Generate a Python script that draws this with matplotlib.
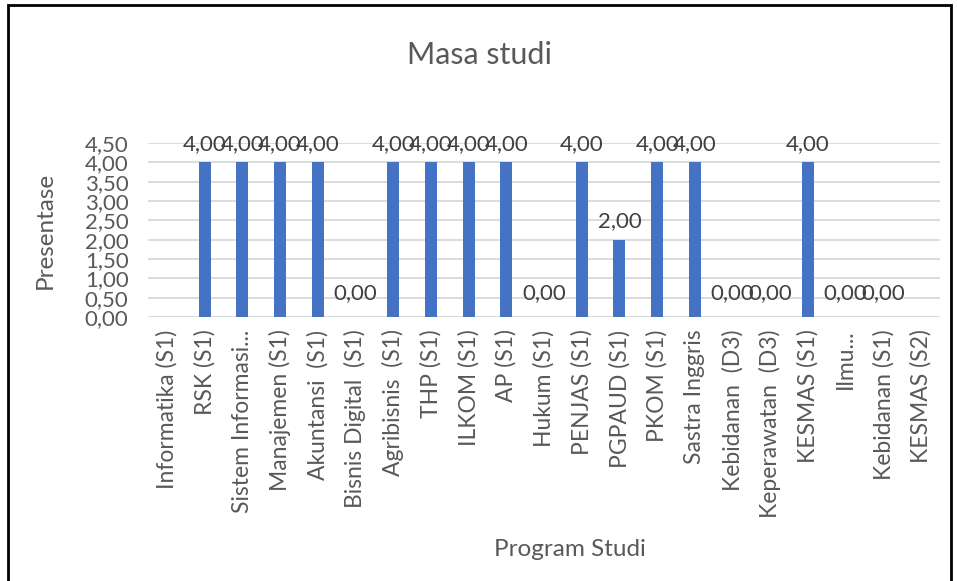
import numpy as np
import matplotlib
matplotlib.use("Agg")
import matplotlib.pyplot as plt
from matplotlib.patches import Rectangle

categories = ["Informatika (S1)", "RSK (S1)", "Sistem Informasi...", "Manajemen (S1)",
              "Akuntansi  (S1)", "Bisnis Digital  (S1)", "Agribisnis  (S1)", "THP (S1)",
              "ILKOM (S1)", "AP (S1)", "Hukum (S1)", "PENJAS (S1)", "PGPAUD (S1)",
              "PKOM (S1)", "Sastra Inggris", "Kebidanan  (D3)", "Keperawatan  (D3)",
              "KESMAS (S1)", "Ilmu...", "Kebidanan (S1)", "KESMAS (S2)"]
values = [np.nan, 4, 4, 4, 4, 0, 4, 4, 4, 4, 0, 4, 2, 4, 4, 0, 0, 4, 0, 0, np.nan]
yticks = [0, 0.5, 1, 1.5, 2, 2.5, 3, 3.5, 4, 4.5]

plt.rcParams['font.family'] = ['Lato', 'DejaVu Sans']
grey = '#595959'

fig = plt.figure(figsize=(9.57, 5.81), dpi=100)
ax = fig.add_axes([148/957, 1 - 317/581, (940-148)/957, (317-143)/581])

x = np.arange(len(categories))
vals = np.array(values, dtype=float)
ax.bar(x, np.nan_to_num(vals), width=0.32, color='#4472c4', zorder=3)
for xi, v in zip(x, vals):
    if not np.isnan(v):
        off = 10 if v == 0 else 6
        ax.annotate(f"{v:.2f}".replace('.', ','), (xi, v), xytext=(0, off),
                    textcoords='offset points', ha='center', va='bottom',
                    fontsize=16, color='#404040')

ax.set_xlim(-0.5, len(categories) - 0.5)
ax.set_ylim(0, 4.5)
ax.set_yticks(yticks)
ax.set_yticklabels([f"{t:.2f}".replace('.', ',') for t in yticks], fontsize=16, color=grey)
ax.set_xticks(x)
ax.set_xticklabels(categories, rotation=90, fontsize=16.5, color=grey, va='top')
ax.tick_params(axis='x', length=0, pad=9)
ax.tick_params(axis='y', length=0, pad=14)
ax.grid(axis='y', color='#d9d9d9', linewidth=1.3, zorder=0)
for s in ax.spines.values():
    s.set_visible(False)
ax.axhline(0, color='#d9d9d9', linewidth=1.3, zorder=1)

fig.text(479/957, 1 - 55/581, "Masa studi", ha='center', va='center', fontsize=22, color=grey)
fig.text(45/957, 1 - 230/581, "Presentase", ha='center', va='center', rotation=90, fontsize=17.5, color=grey)
fig.text(570/957, 1 - 550/581, "Program Studi", ha='center', va='center', fontsize=17.5, color=grey)

fig.patches.append(Rectangle((8/957, -0.01), (951-8)/957, 1 - 5/581 + 0.01, transform=fig.transFigure,
                             fill=False, edgecolor='black', linewidth=2))

fig.savefig("out.png", dpi=100)
